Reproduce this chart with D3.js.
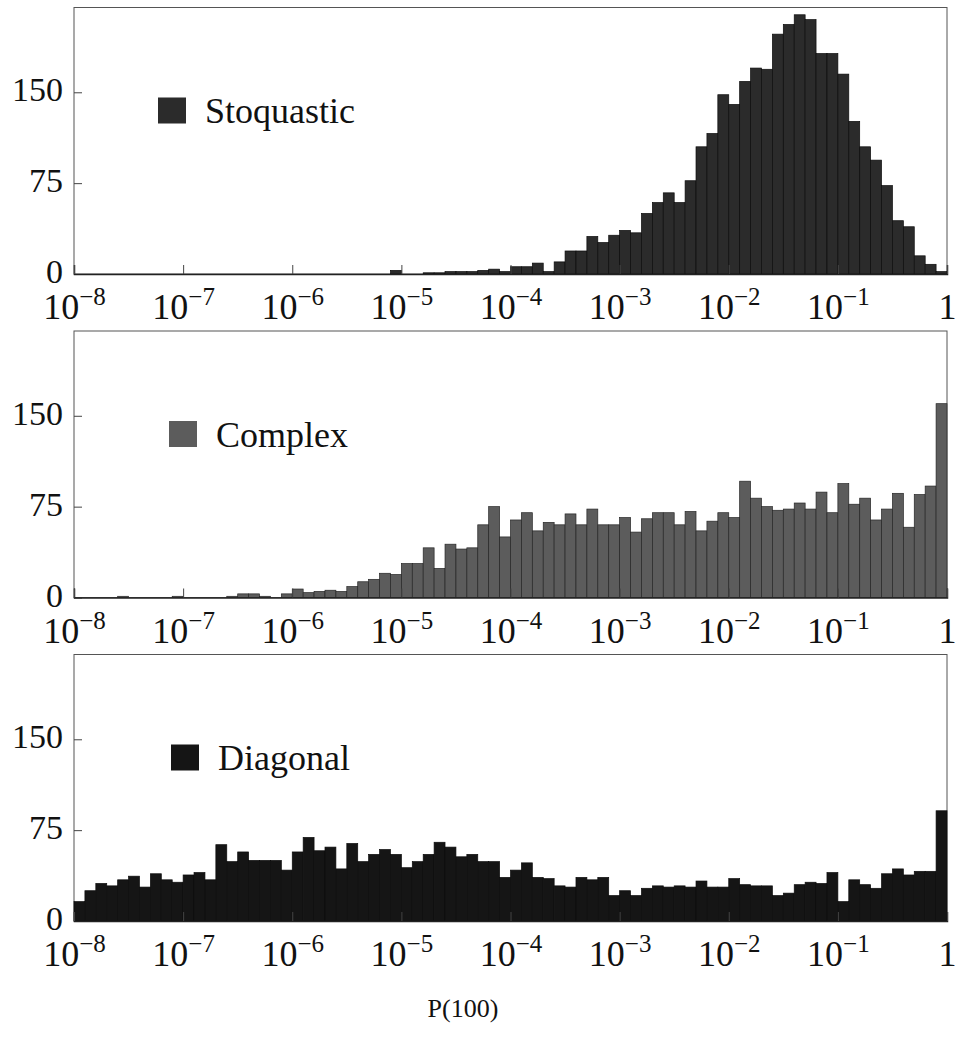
<!DOCTYPE html>
<html>
<head>
<meta charset="utf-8">
<script src="https://cdn.jsdelivr.net/npm/d3@7"></script>
<style>
body{margin:0;background:#fff;}
text{font-family:"Liberation Serif","DejaVu Serif",serif;fill:#111;}
</style>
</head>
<body>
<div id="chart"></div>
<script>
// counts per bin, 10 bins per decade from 1e-8 to 1
var stoquastic = [0,0,0,0,0,0,0,0,0,0, 0,0,0,0,0,0,0,0,0,0,
  0,0,0,0,0,0,0,0,0,3, 0,0,1,1,2,2,2,3,4,2,
  6,6,9,2,10,19,19,31,26,32, 36,34,50,59,67,59,77,105,116,148,
  140,159,170,169,198,206,214,210,182,182, 165,126,105,94,73,44,39,15,8,2];
var complex = [0,0,0,0,1,0,0,0,0,1, 0,0,0,0,1,3,3,1,0,3,
  7,4,5,6,5,9,13,15,20,19, 28,28,41,24,44,40,41,60,75,50,
  64,70,55,62,60,69,60,73,60,60, 66,54,65,70,70,60,71,55,63,70,
  66,96,82,75,72,73,78,73,87,70, 94,77,82,64,73,86,58,85,92,160];
var diagonal = [16,25,31,29,34,37,28,39,34,32, 38,40,34,63,49,57,50,50,50,42,
  57,69,58,61,43,64,49,55,59,55, 44,49,55,65,61,53,55,49,49,36,
  42,48,36,35,29,28,36,34,36,21, 25,21,27,29,28,29,28,33,28,28,
  35,30,29,29,21,23,30,32,31,40, 16,34,30,27,39,43,38,41,41,91];

var seriesNames = ["Stoquastic","Complex","Diagonal"];
var seriesColors = ["#2b2b2b","#5c5c5c","#151515"];
var yTicks = [0,75,150];
var xTickExp = [-8,-7,-6,-5,-4,-3,-2,-1,0];
var binsPerDecade = 10;

var w = 957, h = 1045;
var left = 74, right = 947;
var panelTops = [7.5, 331, 654.5];
var panelH = 266.5;
var legendX = [158, 169, 171];

var svg = d3.select("#chart").append("svg")
  .attr("width", w).attr("height", h);

var x = d3.scaleLog().domain([1e-8, 1]).range([left, right]);

var allData = [stoquastic, complex, diagonal];

allData.forEach(function(values, p){
  var top = panelTops[p];
  var y = d3.scaleLinear().domain([0, 220]).range([top + panelH, top]);
  var g = svg.append("g");

  g.append("rect")
    .attr("x", left).attr("y", top)
    .attr("width", right-left).attr("height", panelH)
    .attr("fill", "none").attr("stroke", "#555").attr("stroke-width", 1);

  var bins = values.map(function(v, i){
    return {x0: Math.pow(10, -8 + i/binsPerDecade), x1: Math.pow(10, -8 + (i+1)/binsPerDecade), v: v};
  });

  g.selectAll("rect.bar")
    .data(bins.filter(function(d){ return d.v > 0; }))
    .enter()
    .append("rect")
    .attr("class","bar")
    .attr("x", function(d){ return x(d.x0); })
    .attr("width", function(d){ return x(d.x1) - x(d.x0); })
    .attr("y", function(d){ return y(d.v); })
    .attr("height", function(d){ return y(0) - y(d.v); })
    .attr("fill", seriesColors[p])
    .attr("stroke", p == 1 ? "#262626" : "#0c0c0c")
    .attr("stroke-width", 0.7);

  // y axis
  var ya = g.append("g")
    .attr("transform", "translate(" + left + ",0)")
    .call(d3.axisLeft(y).tickValues(yTicks).tickSize(-8).tickPadding(10));
  ya.select(".domain").remove();
  ya.selectAll("line").attr("stroke", "#444");
  ya.selectAll("text").attr("font-size", 34).attr("dy", "0.25em")
    .attr("x", -11).style("font-family", "Liberation Serif");

  // x axis
  var xa = g.append("g")
    .attr("transform", "translate(0," + (top + panelH) + ")")
    .call(d3.axisBottom(x).tickValues(xTickExp.map(function(e){ return Math.pow(10, e); }))
      .tickSize(-9).tickFormat(function(){ return ""; }));
  xa.select(".domain").attr("stroke", "#222").attr("stroke-width", 1.5);
  xa.selectAll("line").attr("stroke", "#444");
  xa.selectAll(".tick text").remove();
  xa.selectAll(".tick").each(function(d, i){
    var e = xTickExp[i];
    var t = d3.select(this).append("text")
      .attr("y", 45).attr("text-anchor", "middle")
      .style("font-family", "Liberation Serif").attr("fill", "#111");
    if (e == 0) {
      t.append("tspan").attr("font-size", 36).text("1");
      t.attr("x", 0);
    } else {
      t.append("tspan").attr("font-size", 36).text("10");
      t.append("tspan").attr("font-size", 25).attr("dy", -14).text("\u2212" + (-e));
    }
  });

  // legend
  g.append("rect")
    .attr("x", legendX[p]).attr("y", top + 90)
    .attr("width", 28).attr("height", 26)
    .attr("fill", seriesColors[p]);
  g.append("text")
    .attr("x", legendX[p] + 47).attr("y", top + 115.5)
    .attr("font-size", 36)
    .text(seriesNames[p]);
});

svg.append("text")
  .attr("x", 463).attr("y", 1017)
  .attr("text-anchor", "middle")
  .attr("font-size", 26)
  .text("P(100)");
</script>
</body>
</html>
